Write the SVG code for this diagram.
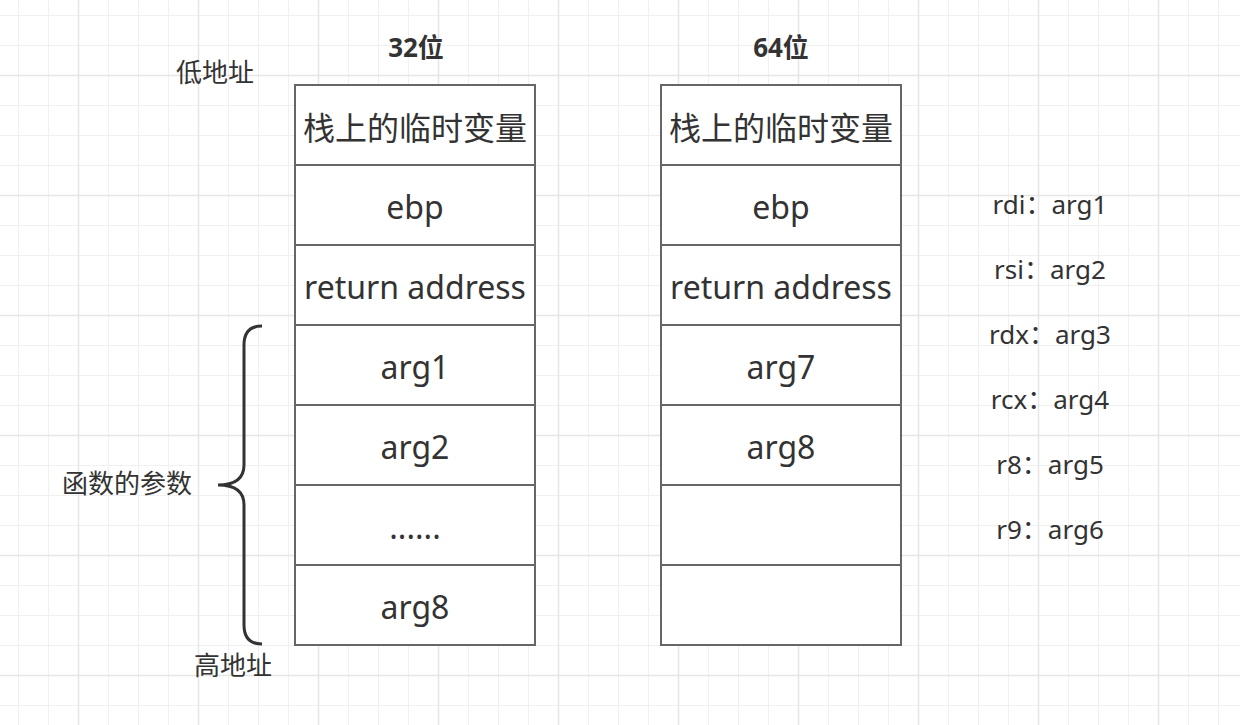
<svg xmlns="http://www.w3.org/2000/svg" width="1240" height="725" viewBox="0 0 1240 725">
<style>
.cell{fill:#ffffff;stroke:#666666;stroke-width:2}
.ct{font-family:"Noto Sans","Noto Sans CJK SC",sans-serif;font-size:32px;fill:#333333;text-anchor:middle}
.lb{font-family:"Noto Sans","Noto Sans CJK SC",sans-serif;font-size:26px;fill:#333333;text-anchor:middle}
.tt{font-family:"Noto Sans","Noto Sans CJK SC",sans-serif;font-size:26px;font-weight:bold;fill:#333333;text-anchor:middle}
</style>
<defs>
<pattern id="grid" patternUnits="userSpaceOnUse" x="18" y="15" width="120" height="120">
<path d="M0.5 0V120M30.5 0V120M90.5 0V120M0 0.5H120M0 30.5H120M0 90.5H120" stroke="#f0f0f0" stroke-width="1" fill="none"/>
<path d="M60.5 0V120M0 60.5H120" stroke="#e6e6e6" stroke-width="1.5" fill="none"/>
</pattern>
</defs>
<rect width="1240" height="725" fill="#ffffff"/>
<rect width="1240" height="725" fill="url(#grid)"/>

<g id="title32"><text class="tt" x="416" y="57">32位</text></g>
<g id="title64"><text class="tt" x="781" y="57">64位</text></g>
<g id="low"><text class="lb" x="215" y="82">低地址</text></g>
<g id="high"><text class="lb" x="233" y="675">高地址</text></g>
<g id="params"><text class="lb" x="127" y="493">函数的参数</text></g>

<g id="stack32">
<g id="s32-0"><rect class="cell" x="295" y="85" width="240" height="80"/><text class="ct" x="415" y="140">栈上的临时变量</text></g>
<g id="s32-1"><rect class="cell" x="295" y="165" width="240" height="80"/><text class="ct" x="415" y="219">ebp</text></g>
<g id="s32-2"><rect class="cell" x="295" y="245" width="240" height="80"/><text class="ct" x="415" y="299">return address</text></g>
<g id="s32-3"><rect class="cell" x="295" y="325" width="240" height="80"/><text class="ct" x="415" y="379">arg1</text></g>
<g id="s32-4"><rect class="cell" x="295" y="405" width="240" height="80"/><text class="ct" x="415" y="459">arg2</text></g>
<g id="s32-5"><rect class="cell" x="295" y="485" width="240" height="80"/><text class="ct" x="415" y="539">......</text></g>
<g id="s32-6"><rect class="cell" x="295" y="565" width="240" height="80"/><text class="ct" x="415" y="619">arg8</text></g>
</g>

<g id="stack64">
<g id="s64-0"><rect class="cell" x="661" y="85" width="240" height="80"/><text class="ct" x="781" y="140">栈上的临时变量</text></g>
<g id="s64-1"><rect class="cell" x="661" y="165" width="240" height="80"/><text class="ct" x="781" y="219">ebp</text></g>
<g id="s64-2"><rect class="cell" x="661" y="245" width="240" height="80"/><text class="ct" x="781" y="299">return address</text></g>
<g id="s64-3"><rect class="cell" x="661" y="325" width="240" height="80"/><text class="ct" x="781" y="379">arg7</text></g>
<g id="s64-4"><rect class="cell" x="661" y="405" width="240" height="80"/><text class="ct" x="781" y="459">arg8</text></g>
<g id="s64-5"><rect class="cell" x="661" y="485" width="240" height="80"/></g>
<g id="s64-6"><rect class="cell" x="661" y="565" width="240" height="80"/></g>
</g>

<g id="regs">
<text class="lb" x="1050" y="214">rdi：arg1</text>
<text class="lb" x="1050" y="279">rsi：arg2</text>
<text class="lb" x="1050" y="344">rdx：arg3</text>
<text class="lb" x="1050" y="409">rcx：arg4</text>
<text class="lb" x="1050" y="474">r8：arg5</text>
<text class="lb" x="1050" y="539">r9：arg6</text>
</g>

<g id="connectors">
<path id="brace" d="M262 326C250 326 244 332 244 345V465C244 478 236 485 218 485C236 485 244 492 244 505V625C244 638 250 644 262 644" fill="none" stroke="#333333" stroke-width="3"/>
</g>
</svg>
